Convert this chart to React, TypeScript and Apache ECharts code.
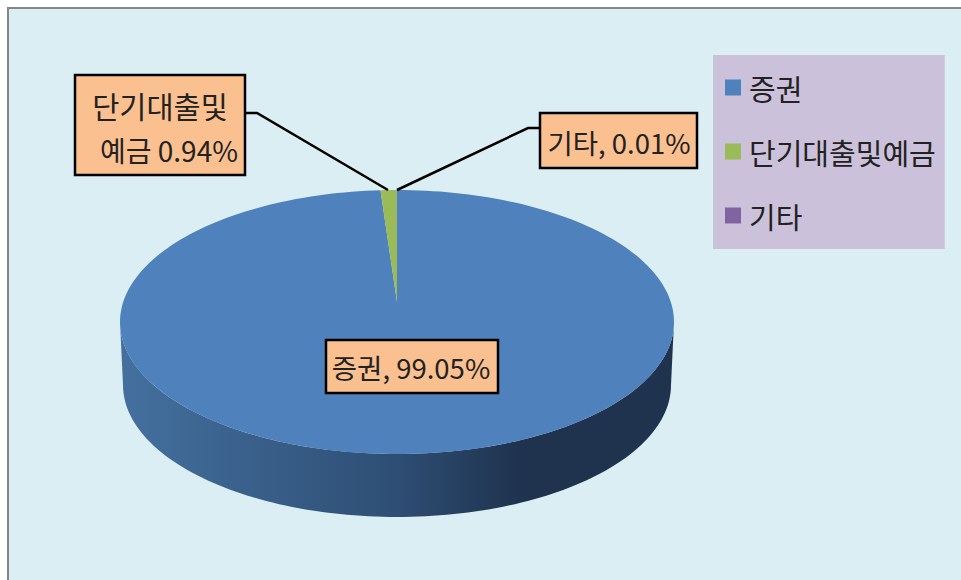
import React, { useEffect, useRef } from "react";
import * as echarts from "echarts";

const categories = ["증권", "단기대출및예금", "기타"];
const values = [99.05, 0.94, 0.01];
const colors = ["#4F81BD", "#9BBB59", "#8064A2"];

const FONT = '"Noto Sans CJK KR", "Noto Sans", sans-serif';
const CX = 397;
const CY = 322;
const RX = 277;
const RY = 132;
const APEX_Y = 302;
const BOTTOM_CY = 385;
const BOTTOM_RX = 274;
const TOTAL = values.reduce((a, b) => a + b, 0);

const ell = (deg: number, cx: number, cy: number, rx: number, ry: number) => {
  const t = (deg * Math.PI) / 180;
  return [cx + rx * Math.sin(t), cy - ry * Math.cos(t)];
};

const arc = (a: number, b: number, cy: number, rx: number) => {
  const n = Math.max(2, Math.ceil(Math.abs(b - a) / 1.5));
  const pts: number[][] = [];
  for (let i = 0; i <= n; i++) pts.push(ell(a + ((b - a) * i) / n, CX, cy, rx, RY));
  return pts;
};

const box = (x: number, y: number, w: number, h: number) => ({
  type: "rect",
  shape: { x, y, width: w, height: h },
  style: { fill: "#FAC090", stroke: "#000000", lineWidth: 2.5 },
});

const txt = (text: string, x: number, y: number, size = 28) => ({
  type: "text",
  style: { text, x, y, fill: "#222222", font: `${size}px ${FONT}`, align: "center", verticalAlign: "middle" },
});

const leader = (points: number[][]) => ({
  type: "polyline",
  shape: { points },
  style: { fill: "none", stroke: "#000000", lineWidth: 2.5 },
});

const labelFor = (i: number, value: number) => {
  const pct = `${value.toFixed(2)}%`;
  if (i === 0) return [box(326, 340, 172, 53), txt(`${categories[0]}, ${pct}`, 411, 367, 27.5)];
  if (i === 1) {
    return [
      leader([[245, 113], [257, 113], [388, 190]]),
      box(75, 75, 170, 100),
      txt("단기대출및", 160, 105, 29.5),
      txt(`예금 ${pct}`, 169, 150),
    ];
  }
  return [
    leader([[540, 128], [528, 128], [397, 190]]),
    box(540, 113, 157, 55),
    txt(`${categories[2]}, ${pct}`, 619, 142, 27.5),
  ];
};

const sideFill = new echarts.graphic.LinearGradient(0, 0, 1, 0, [
  { offset: 0, color: "#44709F" },
  { offset: 0.5, color: "#2E4E74" },
  { offset: 0.72, color: "#1F334F" },
  { offset: 1, color: "#1F334F" },
]);

const makeSeries = (i: number) => ({
  type: "custom",
  name: categories[i],
  coordinateSystem: "none",
  silent: true,
  itemStyle: { color: colors[i] },
  data: [[values[i]]],
  renderItem: (_p: any, api: any) => {
    const value = api.value(0) as number;
    const before = values.slice(0, i).reduce((a, b) => a + b, 0);
    const start = (before / TOTAL) * 360;
    const end = ((before + value) / TOTAL) * 360;
    const children: any[] = [];
    const wallA = Math.max(start, 90);
    const wallB = Math.min(end, 270);
    if (wallB > wallA) {
      children.push({
        type: "polygon",
        shape: { points: [...arc(wallA, wallB, CY, RX), ...arc(wallB, wallA, BOTTOM_CY, BOTTOM_RX)] },
        style: { fill: sideFill },
      });
    }
    children.push({
      type: "polygon",
      shape: { points: [[CX, APEX_Y], ...arc(start, end, CY, RX)] },
      style: { fill: colors[i] },
    });
    children.push(...labelFor(i, value));
    return { type: "group", children };
  },
});

export default function App() {
  const ref = useRef<HTMLDivElement>(null);
  useEffect(() => {
    const chart = echarts.init(ref.current!, undefined, { renderer: "svg" });
    chart.setOption({
      animation: false,
      backgroundColor: "#FFFFFF",
      graphic: [
        {
          type: "rect",
          z: -1,
          shape: { x: 8, y: 8, width: 1000, height: 1000 },
          style: { fill: "#DBEEF4", stroke: "#868686", lineWidth: 2 },
        },
      ],
      legend: {
        orient: "vertical",
        left: 713,
        top: 55,
        padding: [18, 9, 19, 12],
        backgroundColor: "#CCC1DA",
        icon: "rect",
        itemWidth: 16,
        itemHeight: 16,
        itemGap: 35,
        selectedMode: false,
        data: categories,
        textStyle: { fontFamily: FONT, fontSize: 29, color: "#222222", padding: [0, 0, 0, 3] },
      },
      series: categories.map((_, i) => makeSeries(i)),
    });
    return () => chart.dispose();
  }, []);
  return <div ref={ref} style={{ position: "fixed", left: 0, top: 0, width: 961, height: 580 }} />;
}
